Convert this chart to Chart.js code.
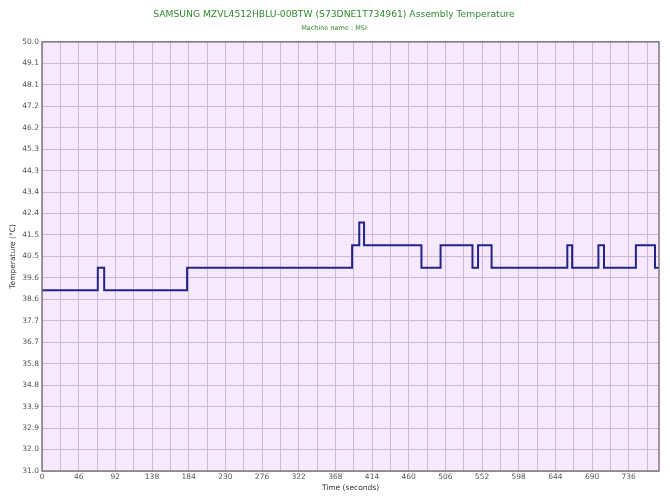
<!DOCTYPE html>
<html>
<head>
<meta charset="utf-8">
<script src="https://cdn.jsdelivr.net/npm/chart.js@4.4.1/dist/chart.umd.min.js"></script>
<style>
  html, body { margin: 0; padding: 0; background: #ffffff; }
  #wrap { width: 670px; height: 503px; }
</style>
</head>
<body>
<div id="wrap"><canvas id="chart" width="670" height="503"></canvas></div>
<script>
// Time (seconds) where the temperature changes, and the new value
const changeTimes = [0, 70, 78, 182, 389, 398, 404, 476, 500, 540, 547, 564, 659, 665, 698, 705, 745, 769, 774]
const temperatures = [39, 40, 39, 40, 41, 42, 41, 40, 41, 40, 41, 40, 41, 40, 41, 40, 41, 40, 40]

// Axis tick labels as printed on the chart
const yTickLabels = ['31.0', '32.0', '32.9', '33.9', '34.8', '35.8', '36.7', '37.7', '38.6', '39.6',
  '40.5', '41.5', '42.4', '43.4', '44.3', '45.3', '46.2', '47.2', '48.1', '49.1', '50.0']
const xTickLabels = ['0', '46', '92', '138', '184', '230', '276', '322', '368', '414', '460',
  '506', '552', '598', '644', '690', '736']

const Y_MIN = 31
const Y_MAX = 50
const X_MAX = 774
const X_GRID_STEP = 23

const tickFont = { family: 'Tahoma, "DejaVu Sans", sans-serif', size: 7.5 }

// Plot area background and the frame round it
const plotFrame = {
  id: 'plotFrame',
  beforeDraw(chart) {
    const { ctx, chartArea: a } = chart
    ctx.save()
    ctx.fillStyle = '#f6e8fd'
    ctx.fillRect(a.left, a.top, a.right - a.left, a.bottom - a.top)
    ctx.restore()
  },
  afterDraw(chart) {
    const { ctx, chartArea: a } = chart
    ctx.save()
    ctx.strokeStyle = '#7a7a7a'
    ctx.lineWidth = 1.5
    ctx.strokeRect(a.left, a.top, a.right - a.left, a.bottom - a.top)
    ctx.restore()
  }
}

const points = changeTimes.map((t, i) => ({ x: t, y: temperatures[i] }))

new Chart(document.getElementById('chart'), {
  type: 'line',
  data: {
    datasets: [{
      data: points,
      stepped: 'before',
      borderColor: '#23238c',
      borderWidth: 2,
      pointRadius: 0,
      fill: false
    }]
  },
  options: {
    responsive: false,
    animation: false,
    layout: { padding: { left: 9, right: 11, top: 0, bottom: 10 } },
    plugins: {
      legend: { display: false },
      tooltip: { enabled: false },
      title: {
        display: true,
        text: 'SAMSUNG MZVL4512HBLU-00BTW (S73DNE1T734961) Assembly Temperature',
        color: '#2f8a2f',
        font: { family: 'Verdana, "DejaVu Sans", sans-serif', size: 9.2, weight: 'normal' },
        padding: { top: 9, bottom: 4 }
      },
      subtitle: {
        display: true,
        text: 'Machine name : MSI',
        color: '#2f8a2f',
        font: { family: 'Verdana, "DejaVu Sans", sans-serif', size: 6.5 },
        padding: { top: 0, bottom: 10 }
      }
    },
    scales: {
      x: {
        type: 'linear',
        min: 0,
        max: X_MAX,
        afterFit(scale) { scale.height = 22 },
        afterBuildTicks(scale) {
          const ticks = []
          for (let v = 0; v <= X_MAX; v += X_GRID_STEP) ticks.push({ value: v })
          scale.ticks = ticks
        },
        ticks: {
          color: '#555555',
          font: tickFont,
          padding: 2,
          maxRotation: 0,
          autoSkip: false,
          callback: (value) => {
            const idx = value / (X_GRID_STEP * 2)
            return Number.isInteger(idx) ? xTickLabels[idx] : ''
          }
        },
        grid: { color: '#cdb9d4', lineWidth: 1, drawTicks: false },
        border: { display: false },
        title: {
          display: true,
          text: 'Time (seconds)',
          color: '#333333',
          font: { family: 'Tahoma, "DejaVu Sans", sans-serif', size: 7.5 },
          padding: { top: 3, bottom: 0 }
        }
      },
      y: {
        min: Y_MIN,
        max: Y_MAX,
        afterFit(scale) { scale.width = 33 },
        afterBuildTicks(scale) {
          scale.ticks = yTickLabels.map((_, i) => ({ value: Y_MIN + i * (Y_MAX - Y_MIN) / (yTickLabels.length - 1) }))
        },
        ticks: {
          color: '#555555',
          font: tickFont,
          padding: 3,
          autoSkip: false,
          callback: (value, index) => yTickLabels[index]
        },
        grid: { color: '#cdb9d4', lineWidth: 1, drawTicks: false },
        border: { display: false },
        title: {
          display: true,
          text: 'Temperature (°C)',
          color: '#333333',
          font: { family: 'Tahoma, "DejaVu Sans", sans-serif', size: 7.5 },
          padding: { top: 0, bottom: 0 }
        }
      }
    }
  },
  plugins: [plotFrame]
})
</script>
</body>
</html>
